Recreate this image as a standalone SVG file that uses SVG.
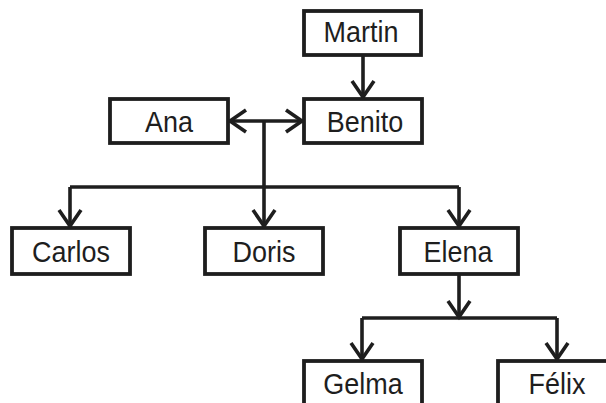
<svg xmlns="http://www.w3.org/2000/svg" width="606" height="403" viewBox="0 0 606 403">
<style>
.box{fill:#fff;stroke:#1e1e1e;stroke-width:3.8}
.lbl{font-family:"Liberation Sans",Arial,sans-serif;font-size:29px;fill:#1e1e1e;text-anchor:middle}
.ln{fill:none;stroke:#1e1e1e;stroke-width:3.6}
</style>
<defs>
<marker id="ah" markerUnits="userSpaceOnUse" markerWidth="30" markerHeight="30" refX="0" refY="0" viewBox="-20 -15 24 30" orient="auto-start-reverse" overflow="visible">
<path d="M-17,-11 L-1,0 L-17,11" fill="none" stroke="#1e1e1e" stroke-width="3.6"/>
</marker>
</defs>
<rect width="606" height="403" fill="#fff"/>
<g id="connectors">
<path class="ln" d="M363,55 V98" marker-end="url(#ah)"/>
<path class="ln" d="M229,121 H303" marker-start="url(#ah)" marker-end="url(#ah)"/>
<path class="ln" d="M264,121 V187"/>
<path class="ln" d="M70,187 H459"/>
<path class="ln" d="M70,187 V227" marker-end="url(#ah)"/>
<path class="ln" d="M264,187 V227" marker-end="url(#ah)"/>
<path class="ln" d="M459,187 V227" marker-end="url(#ah)"/>
<path class="ln" d="M459,274 V318" marker-end="url(#ah)"/>
<path class="ln" d="M362,318 H557"/>
<path class="ln" d="M362,318 V360" marker-end="url(#ah)"/>
<path class="ln" d="M557,318 V360" marker-end="url(#ah)"/>
</g>
<g id="martin"><rect class="box" x="304" y="11" width="117" height="44"/><text class="lbl" transform="translate(361,42) scale(0.93,1)">Martin</text></g>
<g id="ana"><rect class="box" x="110" y="99" width="118" height="44"/><text class="lbl" transform="translate(169,132) scale(0.93,1)">Ana</text></g>
<g id="benito"><rect class="box" x="304" y="99" width="118" height="44"/><text class="lbl" transform="translate(365,132) scale(0.93,1)">Benito</text></g>
<g id="carlos"><rect class="box" x="12" y="228" width="118" height="46"/><text class="lbl" transform="translate(71,262) scale(0.93,1)">Carlos</text></g>
<g id="doris"><rect class="box" x="205" y="228" width="118" height="46"/><text class="lbl" transform="translate(264,262) scale(0.93,1)">Doris</text></g>
<g id="elena"><rect class="box" x="400" y="228" width="118" height="46"/><text class="lbl" transform="translate(458,262) scale(0.93,1)">Elena</text></g>
<g id="gelma"><rect class="box" x="304" y="361" width="118" height="46"/><text class="lbl" transform="translate(363,394) scale(0.93,1)">Gelma</text></g>
<g id="felix"><rect class="box" x="498" y="361" width="118" height="46"/><text class="lbl" transform="translate(557,394) scale(0.93,1)">Félix</text></g>
</svg>
